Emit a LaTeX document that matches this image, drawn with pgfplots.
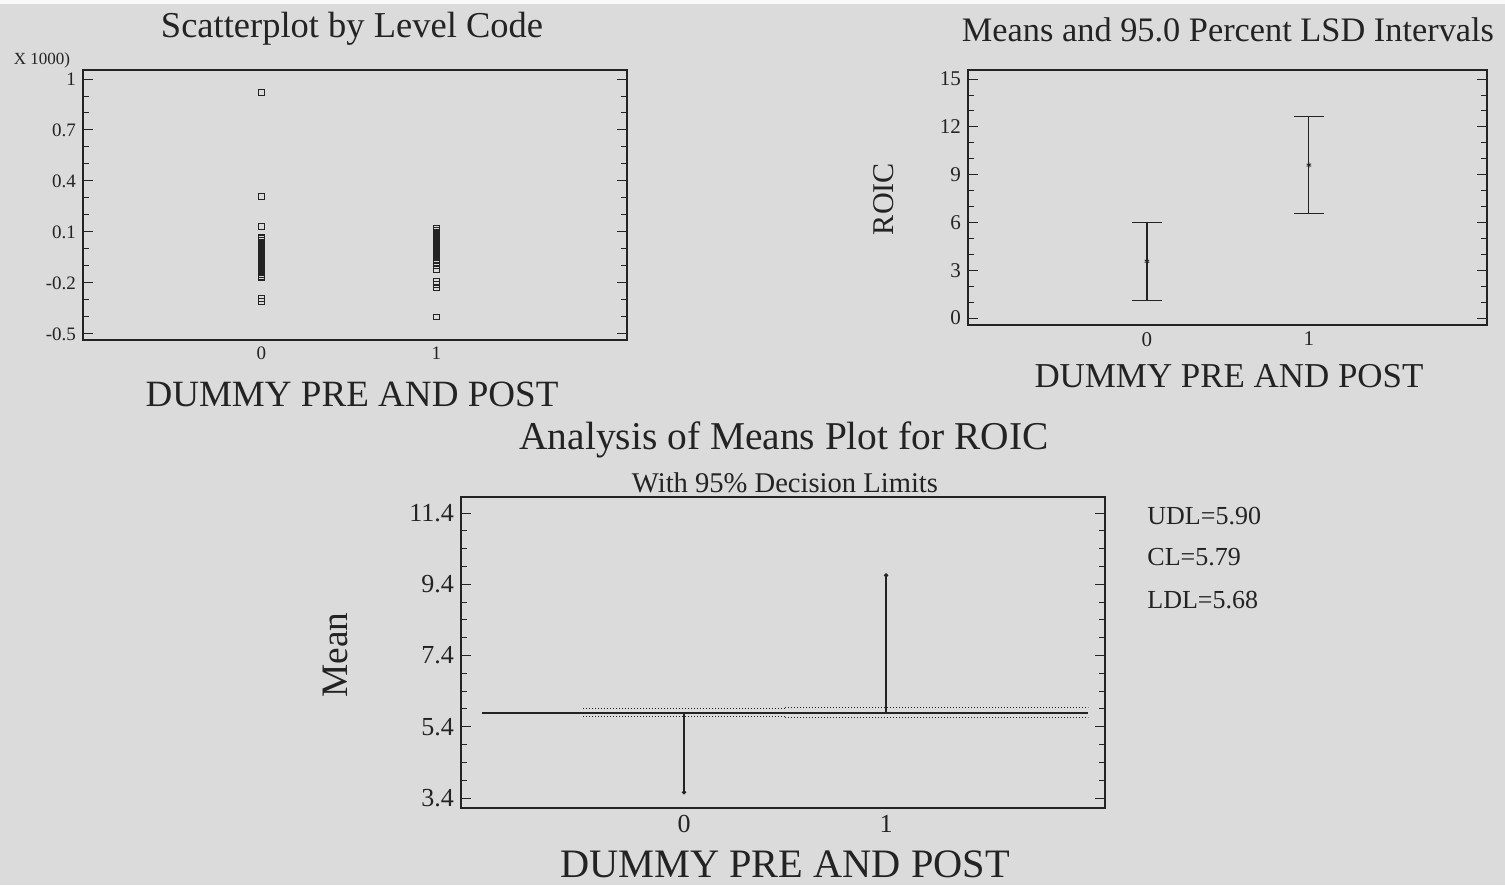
\documentclass[border=0pt]{standalone}
\usepackage{fontspec}
\setmainfont{Liberation Serif}
\usepackage{pgfplots}
\pgfplotsset{compat=1.18}
\definecolor{bg}{RGB}{219,219,219}
\definecolor{ink}{RGB}{35,35,35}
\begin{document}
\begin{tikzpicture}
\useasboundingbox (0,0) rectangle (752.5pt,-442.5pt);
\fill[bg] (0,0) rectangle (752.5pt,-442.5pt);
\fill[white!85!bg] (0,0) rectangle (752.5pt,-2pt);
\pgfplotsset{every axis/.append style={scale only axis, anchor=south west,
  axis line style={ink, line width=0.6pt}, tick style={ink, line width=0.5pt},
  tick align=inside, ytick pos=both, xtick pos=bottom,
  major tick length=5pt, minor tick length=3pt,
  major x tick style={draw=none},
  /pgf/number format/assume math mode=true, ticklabel style={text=ink}}}
% ---------- Scatterplot ----------
\begin{axis}[at={(41.5pt,-170pt)}, width=272pt, height=135pt,
  xmin=-1.02, xmax=2.09, ymin=-0.536, ymax=1.053,
  xtick={0,1}, ytick={-0.5,-0.2,0.1,0.4,0.7,1}, minor y tick num=2,
  ticklabel style={font=\fontsize{9.5}{10}\selectfont}]
\addplot[only marks, mark=square, mark size=1.45pt, mark options={ink, line width=0.5pt}] coordinates {
(0,0.92) (0,0.31) (0,0.13) (0,0.07) (0,0.06) (0,0.05) (0,0.04) (0,0.03) (0,0.02) (0,0.01) (0,0.0)
(0,-0.01) (0,-0.02) (0,-0.03) (0,-0.04) (0,-0.05) (0,-0.06) (0,-0.07) (0,-0.08) (0,-0.09) (0,-0.10)
(0,-0.11) (0,-0.12) (0,-0.13) (0,-0.14) (0,-0.15) (0,-0.16) (0,-0.17) (0,-0.29) (0,-0.31)
(1,0.12) (1,0.11) (1,0.10) (1,0.09) (1,0.08) (1,0.07) (1,0.06) (1,0.05) (1,0.04) (1,0.03) (1,0.02) (1,0.01)
(1,0.0) (1,-0.01) (1,-0.02) (1,-0.03) (1,-0.04) (1,-0.05) (1,-0.06) (1,-0.07) (1,-0.08) (1,-0.10) (1,-0.12)
(1,-0.19) (1,-0.21) (1,-0.23) (1,-0.40)
};
\end{axis}
% ---------- LSD intervals ----------
\begin{axis}[at={(484pt,-162.5pt)}, width=259.5pt, height=127.5pt,
  xmin=-1.105, xmax=2.1, ymin=-0.44, ymax=15.57,
  xtick={0,1}, ytick={0,3,...,15}, minor y tick num=2,
  ticklabel style={font=\fontsize{10.5}{11}\selectfont}]
\addplot[ink, only marks, mark=asterisk, mark size=1.3pt,
  error bars/.cd, y dir=both, y explicit,
  error bar style={ink, line width=0.6pt},
  error mark options={ink, rotate=90, mark size=7.5pt, line width=0.6pt}]
  coordinates {(0,3.56) += (0,2.44) -= (0,2.46)
               (1,9.60) += (0,3.06) -= (0,3.02)};
\end{axis}
% ---------- ANOM ----------
\begin{axis}[at={(230.5pt,-404pt)}, width=322pt, height=155.5pt,
  xmin=-1.104, xmax=2.084, ymin=3.12, ymax=11.85,
  xtick={0,1}, ytick={3.4,5.4,7.4,9.4,11.4}, minor y tick num=3,
  ticklabel style={font=\fontsize{13}{14}\selectfont},
  yticklabel style={/pgf/number format/.cd, fixed, fixed zerofill, precision=1}]
\addplot[ink, line width=0.9pt] coordinates {(-1,5.79) (2,5.79)};
\addplot[ink, densely dotted, line width=0.5pt] coordinates {(-0.5,5.90) (0.5,5.90)};
\addplot[ink, densely dotted, line width=0.5pt] coordinates {(-0.5,5.68) (0.5,5.68)};
\addplot[ink, densely dotted, line width=0.5pt] coordinates {(0.5,5.93) (2,5.93)};
\addplot[ink, densely dotted, line width=0.5pt] coordinates {(0.5,5.65) (2,5.65)};
\addplot[ink, line width=0.6pt] coordinates {(0,5.79) (0,3.56)};
\addplot[ink, line width=0.6pt] coordinates {(1,5.79) (1,9.65)};
\addplot[ink, only marks, mark=*, mark size=0.9pt] coordinates {(0,3.56) (1,9.65)};
\end{axis}
% ---------- Texts ----------
\begin{scope}[x=0.5pt, y=-0.5pt, text=ink]
\node at (352,29) {\resizebox{191pt}{!}{Scatterplot by Level Code}};
\node at (1228,30) {\resizebox{266pt}{!}{Means and 95.0 Percent LSD Intervals}};
\node at (42,60) {\fontsize{8.5}{9}\selectfont X 1000)};
\node at (352,394) {\resizebox{206.5pt}{!}{DUMMY PRE AND POST}};
\node at (1229,376) {\resizebox{194.5pt}{!}{DUMMY PRE AND POST}};
\node[rotate=90] at (884,199) {\resizebox{36pt}{!}{ROIC}};
\node at (784,440) {\resizebox{264.5pt}{!}{Analysis of Means Plot for ROIC}};
\node at (785,483) {\resizebox{153pt}{!}{With 95\% Decision Limits}};
\node[rotate=90] at (335,655) {\resizebox{42.5pt}{!}{Mean}};
\node at (785,864) {\resizebox{225pt}{!}{DUMMY PRE AND POST}};
\node[anchor=west, inner sep=0pt] at (1147,516) {\fontsize{13}{14}\selectfont UDL=5.90};
\node[anchor=west, inner sep=0pt] at (1147,557) {\fontsize{13}{14}\selectfont CL=5.79};
\node[anchor=west, inner sep=0pt] at (1147,600) {\fontsize{13}{14}\selectfont LDL=5.68};
\end{scope}
\end{tikzpicture}
\end{document}
